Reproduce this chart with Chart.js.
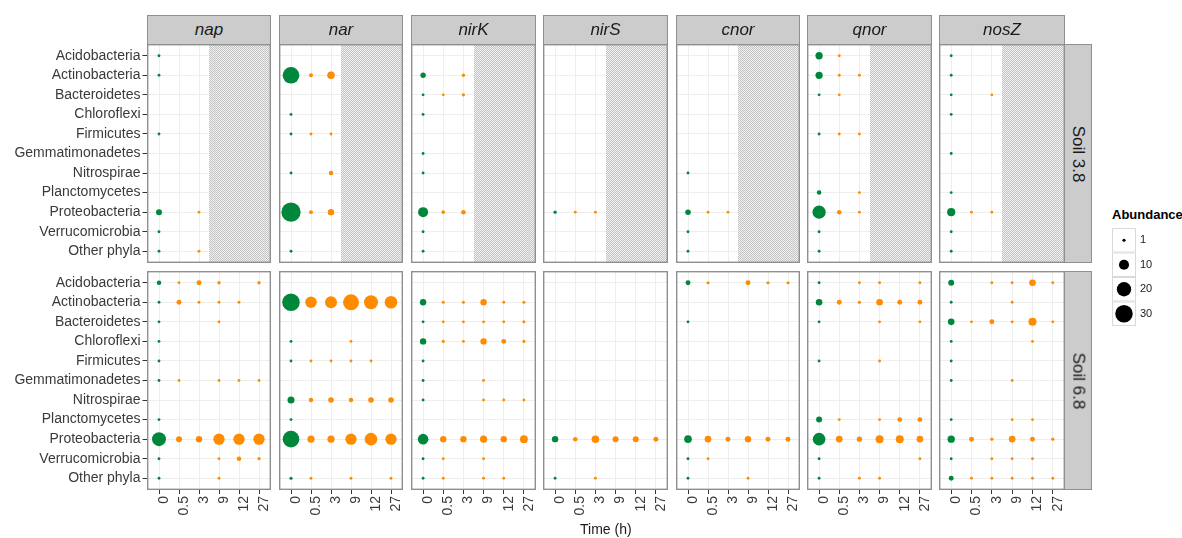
<!DOCTYPE html>
<html>
<head>
<meta charset="utf-8">
<script src="https://cdn.jsdelivr.net/npm/chart.js@4.4.1/dist/chart.umd.min.js"></script>
<style>
  html, body { margin: 0; padding: 0; background: #fff; }
  #fig { position: relative; width: 1182px; height: 538px; overflow: hidden;
         font-family: "Liberation Sans", Arial, sans-serif; }
  #fig canvas { position: absolute; }
  .strip { position: absolute; box-sizing: border-box; background: #cccccc;
           border: 1px solid #8f8f8f; color: #1a1a1a; font-size: 17px;
           display: flex; align-items: center; justify-content: center; }
  .strip.top { font-style: italic; }
  .strip.side span { display: block; transform: rotate(90deg); white-space: nowrap; }
  .axis-title { position: absolute; font-size: 14px; color: #1a1a1a; white-space: nowrap; }
  .legend-title { position: absolute; font-size: 13px; font-weight: bold; color: #000; }
</style>
</head>
<body>
<div id="fig"></div>
<script>
// Facets, categories and time points
const genes  = ['nap', 'nar', 'nirK', 'nirS', 'cnor', 'qnor', 'nosZ'];
const soils  = ['Soil 3.8', 'Soil 6.8'];
const phyla  = ['Acidobacteria', 'Actinobacteria', 'Bacteroidetes', 'Chloroflexi', 'Firmicutes',
                'Gemmatimonadetes', 'Nitrospirae', 'Planctomycetes', 'Proteobacteria',
                'Verrucomicrobia', 'Other phyla'];
const times  = ['0', '0.5', '3', '9', '12', '27'];
const legendSizes = [1, 10, 20, 30];

// Abundance per phylum (rows, order of `phyla`) and time (columns, order of `times`); 0 = not detected
// Soil 3.8 (sampled up to 3 h)
const nap_38 = [
  [0.8, 0, 0, 0, 0, 0], [0.8, 0, 0, 0, 0, 0], [0, 0, 0, 0, 0, 0], [0, 0, 0, 0, 0, 0],
  [0.8, 0, 0, 0, 0, 0], [0, 0, 0, 0, 0, 0], [0, 0, 0, 0, 0, 0], [0, 0, 0, 0, 0, 0],
  [3.5, 0, 0.8, 0, 0, 0], [0.8, 0, 0, 0, 0, 0], [0.8, 0, 0.8, 0, 0, 0]
];
const nar_38 = [
  [0, 0, 0, 0, 0, 0], [27, 1.5, 5.5, 0, 0, 0], [0, 0, 0, 0, 0, 0], [0.8, 0, 0, 0, 0, 0],
  [0.8, 0.8, 0.8, 0, 0, 0], [0, 0, 0, 0, 0, 0], [0.8, 0, 2, 0, 0, 0], [0, 0, 0, 0, 0, 0],
  [36, 1.5, 4, 0, 0, 0], [0, 0, 0, 0, 0, 0], [0.8, 0, 0, 0, 0, 0]
];
const nirK_38 = [
  [0, 0, 0, 0, 0, 0], [2.8, 0, 1.1, 0, 0, 0], [0.8, 0.8, 1, 0, 0, 0], [0.8, 0, 0, 0, 0, 0],
  [0, 0, 0, 0, 0, 0], [0.8, 0, 0, 0, 0, 0], [0.8, 0, 0, 0, 0, 0], [0, 0, 0, 0, 0, 0],
  [9.8, 1.3, 2, 0, 0, 0], [0.8, 0, 0, 0, 0, 0], [0.8, 0, 0, 0, 0, 0]
];
const nirS_38 = [
  [0, 0, 0, 0, 0, 0], [0, 0, 0, 0, 0, 0], [0, 0, 0, 0, 0, 0], [0, 0, 0, 0, 0, 0],
  [0, 0, 0, 0, 0, 0], [0, 0, 0, 0, 0, 0], [0, 0, 0, 0, 0, 0], [0, 0, 0, 0, 0, 0],
  [1.1, 0.8, 0.8, 0, 0, 0], [0, 0, 0, 0, 0, 0], [0, 0, 0, 0, 0, 0]
];
const cnor_38 = [
  [0, 0, 0, 0, 0, 0], [0, 0, 0, 0, 0, 0], [0, 0, 0, 0, 0, 0], [0, 0, 0, 0, 0, 0],
  [0, 0, 0, 0, 0, 0], [0, 0, 0, 0, 0, 0], [0.8, 0, 0, 0, 0, 0], [0, 0, 0, 0, 0, 0],
  [3, 0.8, 0.8, 0, 0, 0], [0.8, 0, 0, 0, 0, 0], [0.8, 0, 0, 0, 0, 0]
];
const qnor_38 = [
  [5.2, 0.8, 0, 0, 0, 0], [5.2, 0.8, 0.8, 0, 0, 0], [0.8, 0.8, 0, 0, 0, 0], [0, 0, 0, 0, 0, 0],
  [0.8, 0.8, 0.8, 0, 0, 0], [0, 0, 0, 0, 0, 0], [0, 0, 0, 0, 0, 0], [2, 0, 0.8, 0, 0, 0],
  [17, 2, 0.8, 0, 0, 0], [0.8, 0, 0, 0, 0, 0], [0.8, 0, 0, 0, 0, 0]
];
const nosZ_38 = [
  [0.8, 0, 0, 0, 0, 0], [0.8, 0, 0, 0, 0, 0], [0.8, 0, 0.8, 0, 0, 0], [0.8, 0, 0, 0, 0, 0],
  [0, 0, 0, 0, 0, 0], [0.8, 0, 0, 0, 0, 0], [0, 0, 0, 0, 0, 0], [0.8, 0, 0, 0, 0, 0],
  [6.5, 0.8, 0.8, 0, 0, 0], [0.8, 0, 0, 0, 0, 0], [0.8, 0, 0, 0, 0, 0]
];
// Soil 6.8
const nap_68 = [
  [2, 0.8, 2.4, 1.1, 0, 1.1], [0.8, 2.4, 0.8, 0.8, 0.8, 0], [0.8, 0, 0, 0.8, 0, 0], [0.8, 0, 0, 0, 0, 0],
  [0.8, 0, 0, 0, 0, 0], [0.8, 0.8, 0, 0.8, 0.8, 0.8], [0, 0, 0, 0, 0, 0], [0.8, 0, 0, 0, 0, 0],
  [19, 3.5, 4, 12.5, 12.5, 12.5], [0.8, 0, 0, 0.8, 2, 1], [0.8, 0, 0, 0.8, 0, 0]
];
const nar_68 = [
  [0, 0, 0, 0, 0, 0], [30, 13, 14, 25, 19, 15.5], [0, 0, 0, 0, 0, 0], [0.8, 0, 0, 0.8, 0, 0],
  [0.8, 0.8, 0.8, 0.8, 0.8, 0], [0, 0, 0, 0, 0, 0], [4.8, 2, 3, 2, 3, 3], [0.8, 0, 0, 0, 0, 0],
  [27, 5, 5, 12.5, 15.5, 12.5], [0, 0, 0, 0, 0, 0], [1, 0.8, 0, 0.8, 0, 0.8]
];
const nirK_68 = [
  [0, 0, 0, 0, 0, 0], [4, 0.9, 0.9, 4, 0.8, 0.9], [0.8, 0.8, 0.8, 0.8, 0.8, 0.9], [4, 0.9, 0.8, 4, 2.4, 0.9],
  [0.8, 0, 0, 0, 0, 0], [0.8, 0, 0, 0.8, 0, 0], [0.8, 0, 0, 0.8, 0.8, 0.8], [0, 0, 0, 0, 0, 0],
  [11, 4, 4, 5, 4, 6], [0.8, 0.8, 0, 0.8, 0, 0], [0.8, 0.8, 0, 0.8, 0.8, 0]
];
const nirS_68 = [
  [0, 0, 0, 0, 0, 0], [0, 0, 0, 0, 0, 0], [0, 0, 0, 0, 0, 0], [0, 0, 0, 0, 0, 0],
  [0, 0, 0, 0, 0, 0], [0, 0, 0, 0, 0, 0], [0, 0, 0, 0, 0, 0], [0, 0, 0, 0, 0, 0],
  [4, 2, 5.5, 3.5, 3.5, 2.4], [0, 0, 0, 0, 0, 0], [0.8, 0, 0.8, 0, 0, 0]
];
const cnor_68 = [
  [2.4, 1, 0, 2.4, 1, 1], [0, 0, 0, 0, 0, 0], [0.8, 0, 0, 0, 0, 0], [0, 0, 0, 0, 0, 0],
  [0, 0, 0, 0, 0, 0], [0, 0, 0, 0, 0, 0], [0, 0, 0, 0, 0, 0], [0, 0, 0, 0, 0, 0],
  [5.7, 4.3, 2.4, 4, 2.4, 2.4], [0.8, 0.8, 0, 0, 0, 0], [0.8, 0, 0, 0.8, 0, 0]
];
const qnor_68 = [
  [0.8, 0, 0.8, 0.8, 0, 0.8], [4.3, 2.4, 1, 4.3, 2.4, 2.4], [0.8, 0, 0, 0.8, 0, 0.8], [0, 0, 0, 0, 0, 0],
  [0.8, 0, 0, 0.8, 0, 0], [0, 0, 0, 0, 0, 0], [0, 0, 0, 0, 0, 0], [3.5, 0.8, 0, 0.8, 2.4, 2.4],
  [15.5, 4.3, 2.8, 6.3, 6.3, 4.3], [0.8, 0, 0, 0, 0, 0.8], [0.8, 0, 0.8, 0.8, 0, 0]
];
const nosZ_68 = [
  [3.5, 0, 0.8, 0.8, 4.3, 0.8], [0.8, 0, 0, 0.8, 0, 0], [4.3, 0.8, 2.4, 0.8, 6.3, 0.8], [0.8, 0, 0, 0, 0.8, 0],
  [0.8, 0, 0, 0, 0, 0], [0.8, 0, 0, 0.8, 0, 0], [0, 0, 0, 0, 0, 0], [0.8, 0, 0, 0.8, 0.8, 0],
  [5.3, 2.4, 1, 4.3, 2.4, 1], [0.8, 0, 0.8, 0.8, 0.8, 0], [2.4, 0.8, 0.8, 0.8, 0.8, 0.8]
];

const panels = [
  [nap_38, nar_38, nirK_38, nirS_38, cnor_38, qnor_38, nosZ_38],
  [nap_68, nar_68, nirK_68, nirS_68, cnor_68, qnor_68, nosZ_68]
];

// Styling
const FONT = '"Liberation Sans", Arial, sans-serif';
const GREEN = '#00873c', ORANGE = '#ff8c00';
const GRID = '#eeeeee', TICK = '#333333', FRAME = '#8f8f8f';
const bubbleRadius = v => 1.6 * Math.sqrt(v);

// Facet grid geometry (px)
const PL = [147, 279, 411, 543, 676, 807, 939];
const PR = [271, 403, 536, 668, 800, 932, 1065];
const PT = [44, 271], PB = [263, 490];
const STRIP_TOP = 15, SIDE_STRIP_W = 28, X_AXIS_H = 34;
const HATCH_FROM = 3.5;   // Soil 3.8 was not sampled after 3 h

const fig = document.getElementById('fig');

// fine stipple used for the unsampled time range
const stipple = (() => {
  const c = document.createElement('canvas');
  c.width = 2; c.height = 2;
  const g = c.getContext('2d');
  g.fillStyle = '#f0f0f0'; g.fillRect(0, 0, 2, 2);
  g.fillStyle = '#c4c4c4'; g.fillRect(0, 0, 1, 1); g.fillRect(1, 1, 1, 1);
  return c;
})();

const panelFrame = {
  id: 'panelFrame',
  beforeDatasetsDraw(chart, args, opts) {
    if (!opts.hatchFrom) return;
    const { ctx, chartArea: a, scales: { x } } = chart;
    const x0 = Math.round(x.getPixelForValue(opts.hatchFrom));
    ctx.save();
    ctx.fillStyle = ctx.createPattern(stipple, 'repeat');
    ctx.fillRect(x0, a.top, a.right - x0, a.bottom - a.top);
    ctx.restore();
  },
  afterDraw(chart) {
    const { ctx, chartArea: a } = chart;
    ctx.save();
    ctx.strokeStyle = FRAME;
    ctx.lineWidth = 1.4;
    ctx.strokeRect(a.left + 0.7, a.top + 0.7, a.right - a.left - 1.4, a.bottom - a.top - 1.4);
    ctx.restore();
  }
};

function addCanvas(left, top, w, h) {
  const cv = document.createElement('canvas');
  cv.width = w; cv.height = h;
  cv.style.left = left + 'px'; cv.style.top = top + 'px';
  cv.style.width = w + 'px'; cv.style.height = h + 'px';
  fig.appendChild(cv);
  return cv;
}

function toPoints(matrix) {
  const pts = [];
  matrix.forEach((row, i) => row.forEach((v, j) => {
    if (v > 0) pts.push({ x: j + 1, y: i + 1, r: bubbleRadius(v), v, t: times[j] });
  }));
  return pts;
}

function buildPanel(r, c) {
  const showY = c === 0, showX = r === 1;
  const left = showY ? 0 : PL[c];
  const yW = showY ? PL[0] : 0;
  const w = PR[c] - left;
  const h = (PB[r] - PT[r]) + (showX ? X_AXIS_H : 0);
  const cv = addCanvas(left, PT[r], w, h);
  new Chart(cv, {
    type: 'bubble',
    data: {
      datasets: [{
        label: genes[c] + ' / ' + soils[r],
        data: toPoints(panels[r][c]),
        backgroundColor: ctx => (ctx.raw && ctx.raw.t === '0') ? GREEN : ORANGE,
        borderWidth: 0
      }]
    },
    options: {
      responsive: false, animation: false, events: [],
      layout: { padding: 0, autoPadding: false },
      plugins: { legend: { display: false }, tooltip: { enabled: false },
                 panelFrame: { hatchFrom: r === 0 ? HATCH_FROM : 0 } },
      scales: {
        x: {
          type: 'linear', min: 0.4, max: 6.6,
          afterBuildTicks: s => { s.ticks = times.map((t, i) => ({ value: i + 1 })); },
          afterFit: s => { s.height = showX ? X_AXIS_H : 0; s.paddingLeft = 0; s.paddingRight = 0; },
          border: { display: false },
          grid: { color: GRID, lineWidth: 1, drawTicks: showX, tickLength: 4, tickColor: TICK, tickWidth: 1 },
          ticks: { display: showX, autoSkip: false, minRotation: 90, maxRotation: 90, padding: 2,
                   labelOffset: 5,
                   font: { family: FONT, size: 14 }, color: '#3a3a3a',
                   callback: v => times[Math.round(v) - 1] }
        },
        y: {
          type: 'linear', min: 0.4, max: 11.6, reverse: true,
          afterBuildTicks: s => { s.ticks = phyla.map((p, i) => ({ value: i + 1 })); },
          afterFit: s => { s.width = yW; s.paddingTop = 0; s.paddingBottom = 0; },
          border: { display: false },
          grid: { color: GRID, lineWidth: 1, drawTicks: showY, tickLength: 4.5, tickColor: TICK, tickWidth: 1 },
          ticks: { display: showY, autoSkip: false, padding: 2,
                   font: { family: FONT, size: 14 }, color: '#3a3a3a',
                   callback: v => phyla[Math.round(v) - 1] }
        }
      }
    },
    plugins: [panelFrame]
  });
}

for (let r = 0; r < 2; r++) for (let c = 0; c < genes.length; c++) buildPanel(r, c);

// facet strips
genes.forEach((g, c) => {
  const d = document.createElement('div');
  d.className = 'strip top';
  Object.assign(d.style, { left: PL[c] + 'px', top: STRIP_TOP + 'px',
    width: (PR[c] - PL[c]) + 'px', height: (PT[0] - STRIP_TOP + 1) + 'px' });
  d.textContent = g;
  fig.appendChild(d);
});
soils.forEach((s, r) => {
  const d = document.createElement('div');
  d.className = 'strip side';
  Object.assign(d.style, { left: (PR[6] - 1) + 'px', top: PT[r] + 'px',
    width: SIDE_STRIP_W + 'px', height: (PB[r] - PT[r]) + 'px' });
  const sp = document.createElement('span');
  sp.textContent = s;
  d.appendChild(sp);
  fig.appendChild(d);
});

// axis title
const xt = document.createElement('div');
xt.className = 'axis-title';
xt.textContent = 'Time (h)';
fig.appendChild(xt);
xt.style.left = ((PL[0] + PR[6]) / 2 - xt.offsetWidth / 2) + 'px';
xt.style.top = '521px';

// size legend
const lt = document.createElement('div');
lt.className = 'legend-title';
lt.textContent = 'Abundance';
Object.assign(lt.style, { left: '1112px', top: '207px' });
fig.appendChild(lt);

const KEY = 24.5;
const legendCanvas = addCanvas(1112, 228, 70, Math.round(KEY * legendSizes.length));
new Chart(legendCanvas, {
  type: 'bubble',
  data: { datasets: [{ data: legendSizes.map((v, i) => ({ x: 0.5, y: i + 1, r: bubbleRadius(v) })),
                       backgroundColor: '#000', borderWidth: 0 }] },
  options: {
    responsive: false, animation: false, events: [],
    layout: { padding: 0, autoPadding: false },
    plugins: { legend: { display: false }, tooltip: { enabled: false } },
    scales: {
      x: { type: 'linear', min: 0, max: 1, display: false },
      y: {
        type: 'linear', position: 'right', min: 0.5, max: legendSizes.length + 0.5, reverse: true,
        afterBuildTicks: s => { s.ticks = legendSizes.map((v, i) => ({ value: i + 1 })); },
        afterFit: s => { s.width = 70 - 24; s.paddingTop = 0; s.paddingBottom = 0; },
        border: { display: false },
        grid: { display: false, drawTicks: false },
        ticks: { padding: 4, font: { family: FONT, size: 11 }, color: '#1a1a1a',
                 callback: v => String(legendSizes[Math.round(v) - 1]) }
      }
    }
  },
  plugins: [{
    id: 'keyBoxes',
    beforeDatasetsDraw(chart) {
      const { ctx, chartArea: a, scales: { y } } = chart;
      ctx.save();
      ctx.strokeStyle = '#d9d9d9';
      ctx.lineWidth = 1;
      legendSizes.forEach((v, i) => {
        const y0 = y.getPixelForValue(i + 0.5), y1 = y.getPixelForValue(i + 1.5);
        ctx.fillStyle = '#ffffff';
        ctx.fillRect(a.left, y0, a.right - a.left, y1 - y0);
        ctx.strokeRect(a.left + 0.5, y0 + 0.5, a.right - a.left - 1, y1 - y0 - 1);
      });
      ctx.restore();
    }
  }]
});
</script>
</body>
</html>
